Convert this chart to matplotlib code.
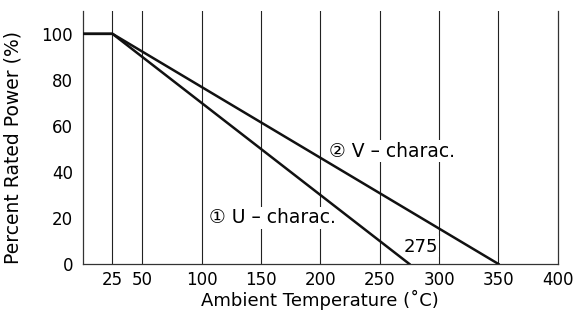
import numpy as np
import matplotlib.pyplot as plt

plt.rcParams['font.family'] = ['DejaVu Sans']

# derating curves (temperature in C, percent rated power)
u_temp = [0, 25, 275]
u_power = [100, 100, 0]
v_temp = [0, 25, 350]
v_power = [100, 100, 0]

x_ticks = [25, 50, 100, 150, 200, 250, 300, 350, 400]
y_ticks = [0, 20, 40, 60, 80, 100]

fig = plt.figure(figsize=(5.75, 3.18), dpi=100)
ax = fig.add_axes([0.144, 0.170, 0.826, 0.796])

# vertical grid lines
for t in x_ticks[:-1]:
    ax.axvline(t, color='#222222', lw=0.8, zorder=1)

ax.plot(u_temp, u_power, color='#111111', lw=1.8, zorder=3)
ax.plot(v_temp, v_power, color='#111111', lw=1.8, zorder=3)

box = dict(facecolor='white', edgecolor='none', pad=1)
ax.text(106, 20, '\u2460 U \u2013 charac.', fontsize=13.5, ha='left', va='center',
        bbox=box, zorder=2)
ax.text(207, 49, '\u2461 V \u2013 charac.', fontsize=13.5, ha='left', va='center',
        bbox=box, zorder=2)
ax.text(299, 7.5, '275', fontsize=13, ha='right', va='center', bbox=box, zorder=2)

ax.set_xlim(0, 400)
ax.set_ylim(0, 110)
ax.set_xticks(x_ticks)
ax.set_yticks(y_ticks)
ax.tick_params(length=0, labelsize=12, pad=5)
ax.tick_params(axis='y', pad=7)
ax.spines['top'].set_visible(False)
for s in ['left', 'bottom', 'right']:
    ax.spines[s].set_linewidth(0.9)
    ax.spines[s].set_color('#333333')

ax.set_xlabel('Ambient Temperature (\u02daC)', fontsize=13, labelpad=1)
ax.set_ylabel('Percent Rated Power (%)', fontsize=13.5)
ax.yaxis.set_label_coords(-0.128, 0.46)

fig.savefig('out.png', dpi=100)
